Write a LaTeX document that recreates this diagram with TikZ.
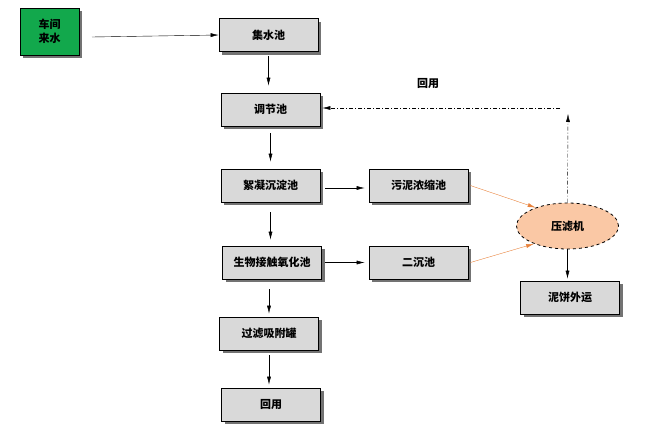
\documentclass[tikz,border=0pt]{standalone}
\usepackage{fontspec}
\setmainfont{Noto Sans CJK SC}
\usepackage{tikz}
\usetikzlibrary{arrows.meta,shapes.geometric,shadows}
\definecolor{boxgray}{RGB}{217,217,217}
\definecolor{srcgreen}{RGB}{18,168,76}
\definecolor{pressfill}{RGB}{250,200,165}
\definecolor{sludgeline}{RGB}{232,130,60}

\begin{document}
\begin{tikzpicture}[x=1pt,y=-1pt,
    font=\fontsize{11}{14}\selectfont\bfseries,
    >={Latex[length=8pt,width=4pt]},
    pool/.style={rectangle,draw,thick,fill=boxgray,minimum width=99pt,minimum height=33pt,
        drop shadow={shadow xshift=3pt,shadow yshift=-3pt,fill=black!55,opacity=1}},
    flow/.style={->,thin},
    sludge/.style={->,thin,draw=sludgeline,>={Latex[length=8pt,width=4pt,fill=sludgeline]}},
    reuse/.style={->,thin,dash pattern=on 4pt off 2pt on 1pt off 2pt}]
    \useasboundingbox (0,0) rectangle (647,439);

    % water source
    \node[pool,fill=srcgreen,minimum width=59pt,minimum height=47pt,align=center] (src) at (49.5,31.5) {车间\\来水};
    \coordinate (srcout) at (92,37);

    % main treatment line
    \node[pool] (collect) at (268.5,35) {集水池};
    \node[pool] (adjust) at (270.5,109.5) {调节池};
    \node[pool] (floc) at (270.5,185.5) {絮凝沉淀池};
    \node[pool] (bio) at (272,262.5) {生物接触氧化池};
    \node[pool] (filter) at (269,333.5) {过滤吸附罐};
    \node[pool] (reused) at (271,404.5) {回用};
    \draw[flow] (srcout) -- (collect.west);
    \draw[flow] ([yshift=-4pt]collect.south) -- ([yshift=7pt]collect.south |- adjust.north);
    \draw[flow] ([yshift=-7pt]adjust.south) -- ([yshift=7pt]adjust.south |- floc.north);
    \draw[flow] ([yshift=-10pt]floc.south) -- ([yshift=6pt]floc.south |- bio.north);
    \draw[flow] ([yshift=-10pt]bio.south -| filter.north) -- ([yshift=3pt]filter.north);
    \draw[flow] ([yshift=-5pt]filter.south) -- ([yshift=3pt]filter.south |- reused.north);

    % sludge line
    \node[pool] (thick) at (418.5,185.5) {污泥浓缩池};
    \node[pool] (settle) at (418.5,262.5) {二沉池};
    \draw[flow] ([xshift=5pt]floc.east |- 0,188) -- ([xshift=-4pt]thick.west |- 0,188);
    \draw[flow] ([xshift=3pt]bio.east) -- ([xshift=-4pt]settle.west);

    % filter press
    \node[ellipse,draw,thick,dashed,fill=pressfill,minimum width=102pt,minimum height=46pt] (press) at (567.5,226) {压滤机};
    \node[pool] (cake) at (570,297.5) {泥饼外运};
    \draw[sludge] ([xshift=2pt]thick.east) -- (press.150);
    \draw[sludge] ([xshift=2pt]settle.east) -- (press.208);
    \draw[flow] (press.south) -- ([yshift=2pt]press.south |- cake.north);

    % return to adjust pool
    \coordinate (uptop) at (568,114);
    \coordinate (corner) at (560,108);
    \draw[reuse] (press.north) -- (uptop);
    \draw[reuse] (corner) -- ([xshift=2pt]adjust.east |- corner);
    \node (retlabel) at (428,84) {回用};
\end{tikzpicture}
\end{document}
